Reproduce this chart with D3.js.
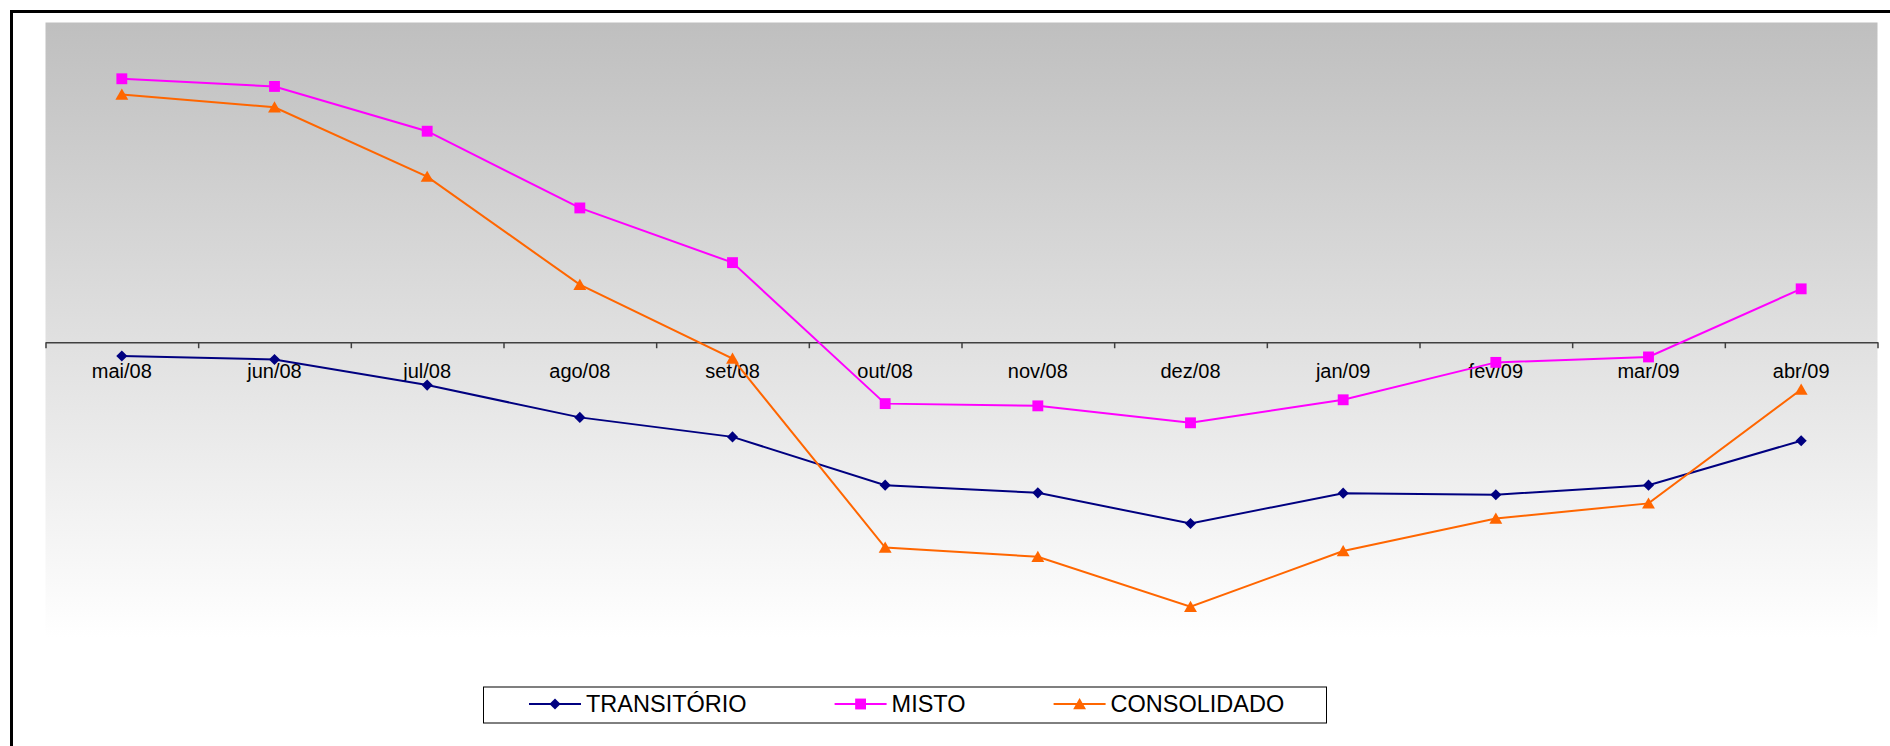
<!DOCTYPE html>
<html>
<head>
<meta charset="utf-8">
<script src="https://cdn.jsdelivr.net/npm/d3@7"></script>
<style>
  body { margin: 0; background: #fff; }
  svg { display: block; font-family: "Liberation Sans", Arial, sans-serif; }
</style>
</head>
<body>
<svg width="1890" height="746"></svg>
<script>
// months on the x axis
const months = ["mai/08", "jun/08", "jul/08", "ago/08", "set/08", "out/08",
                "nov/08", "dez/08", "jan/09", "fev/09", "mar/09", "abr/09"];

// values (no y axis shown, units are relative)
const transitorio = [-0.43, -0.54, -1.34, -2.35, -2.96, -4.47, -4.71, -5.67, -4.72, -4.77, -4.47, -3.08];
const misto       = [8.24, 8.00, 6.60, 4.20, 2.49, -1.92, -1.99, -2.52, -1.80, -0.63, -0.46, 1.67];
const consolidado = [7.75, 7.35, 5.18, 1.80, -0.51, -6.42, -6.71, -8.27, -6.53, -5.51, -5.04, -1.48];

const seriesNames = ["TRANSITÓRIO", "MISTO", "CONSOLIDADO"];
const yDomain = [-9.25, 10];

function init() {
    const svg = d3.select("svg");
    const plot = { left: 45.5, right: 1877.5, top: 22.5, bottom: 638 };

    // diamond = square turned 45 deg
    const series = [
        { name: seriesNames[0], values: transitorio, color: "#000080", symbol: d3.symbolSquare, size: 62, rot: 45, dy: 0 },
        { name: seriesNames[1], values: misto, color: "#ff00ff", symbol: d3.symbolSquare, size: 118, rot: 0, dy: 0 },
        { name: seriesNames[2], values: consolidado, color: "#ff6600", symbol: d3.symbolTriangle, size: 72, rot: 0, dy: 1.5 }
    ];

    // gradient background of the plot area
    const grad = svg.append("defs").append("linearGradient")
        .attr("id", "bg").attr("x1", 0).attr("y1", 0).attr("x2", 0).attr("y2", 1);
    grad.append("stop").attr("offset", "0%").attr("stop-color", "#bfbfbf");
    grad.append("stop").attr("offset", "100%").attr("stop-color", "#ffffff");

    svg.append("rect")
        .attr("x", plot.left).attr("y", plot.top)
        .attr("width", plot.right - plot.left).attr("height", plot.bottom - plot.top)
        .attr("fill", "url(#bg)");

    // outer frame
    svg.append("rect")
        .attr("x", 11.5).attr("y", 11.5)
        .attr("width", 1900).attr("height", 760)
        .attr("fill", "none").attr("stroke", "#000").attr("stroke-width", 3);

    let xScale = d3.scaleBand()
        .domain(months)
        .range([plot.left, plot.right]);
    let yScale = d3.scaleLinear()
        .domain(yDomain)
        .range([plot.bottom, plot.top]);

    const y0 = yScale(0);

    // category axis: line + ticks at band edges
    const edges = d3.scaleLinear().domain([0, months.length]).range([plot.left, plot.right]);
    svg.append("g")
        .attr("transform", `translate(0, ${y0})`)
        .call(d3.axisBottom(edges).tickValues(d3.range(months.length + 1)).tickSize(6).tickSizeOuter(0).tickFormat(""))
        .call(g => g.selectAll("path, line").attr("stroke", "#404040").attr("stroke-width", 1.5));

    // labels at band centres
    svg.append("g")
        .attr("transform", `translate(0, ${y0})`)
        .call(d3.axisBottom(xScale).tickSize(0).tickPadding(22))
        .call(g => g.select(".domain").remove())
        .call(g => g.selectAll("text")
            .attr("font-family", "Liberation Sans, Arial, sans-serif")
            .attr("font-size", "20px")
            .attr("fill", "#000"));

    const line = d3.line()
        .x((d, i) => xScale(months[i]) + xScale.bandwidth() / 2)
        .y(d => yScale(d));

    series.forEach(s => {
        svg.append("path")
            .datum(s.values)
            .attr("d", line)
            .attr("fill", "none")
            .attr("stroke", s.color)
            .attr("stroke-width", 2);

        svg.append("g").selectAll("path")
            .data(s.values)
            .enter()
            .append("path")
            .attr("d", d3.symbol().type(s.symbol).size(s.size))
            .attr("transform", (d, i) => {
                let cx = xScale(months[i]) + xScale.bandwidth() / 2;
                let cy = yScale(d) + s.dy;
                return `translate(${cx}, ${cy}) rotate(${s.rot})`;
            })
            .attr("fill", s.color);
    });

    // legend
    const legend = svg.append("g");
    legend.append("rect")
        .attr("x", 483.5).attr("y", 687)
        .attr("width", 843).attr("height", 36)
        .attr("fill", "#fff").attr("stroke", "#000").attr("stroke-width", 1);

    let lx = 529;
    const ly = 704;
    series.forEach(s => {
        legend.append("line")
            .attr("x1", lx).attr("x2", lx + 52)
            .attr("y1", ly).attr("y2", ly)
            .attr("stroke", s.color).attr("stroke-width", 2);
        legend.append("path")
            .attr("d", d3.symbol().type(s.symbol).size(s.size))
            .attr("transform", `translate(${lx + 26}, ${ly + s.dy}) rotate(${s.rot})`)
            .attr("fill", s.color);
        const t = legend.append("text")
            .attr("x", lx + 57).attr("y", ly)
            .attr("dy", "0.36em")
            .attr("font-size", "23.5px")
            .attr("fill", "#000")
            .text(s.name);
        lx = lx + 57 + t.node().getComputedTextLength() + 88;
    });
}

init();
</script>
</body>
</html>
